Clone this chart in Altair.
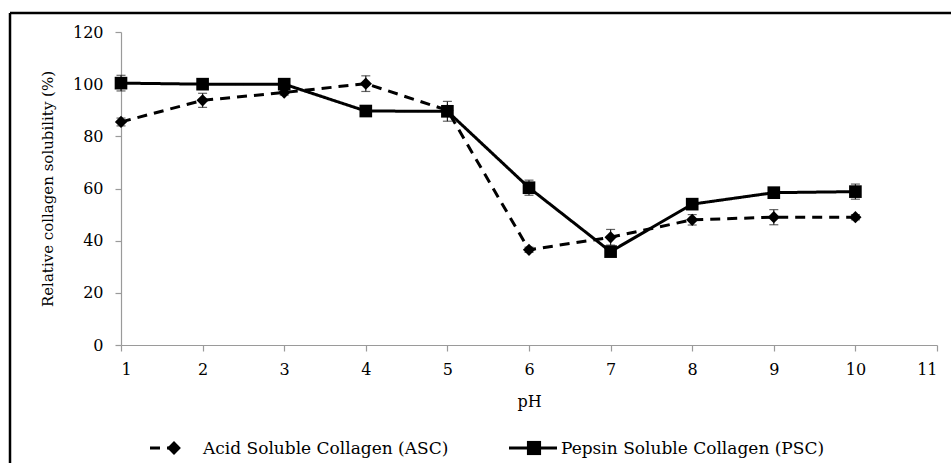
import altair as alt
import pandas as pd

ph = [1, 2, 3, 4, 5, 6, 7, 8, 9, 10]
asc = [85.5, 93.8, 96.8, 100.2, 90.0, 36.5, 41.3, 48.0, 49.0, 49.0]
asc_err = [1.5, 2.7, 1.0, 3.0, 1.0, 1.0, 3.0, 2.0, 2.9, 1.0]
psc = [100.4, 100.0, 100.0, 89.7, 89.6, 60.3, 35.8, 54.0, 58.4, 58.8]
psc_err = [3.0, 1.0, 1.0, 1.0, 3.8, 2.9, 1.0, 2.0, 1.2, 2.9]
series = ["Acid Soluble Collagen (ASC)", "Pepsin Soluble Collagen (PSC)"]
x_ticks = list(range(1, 12))
y_ticks = [0, 20, 40, 60, 80, 100, 120]

rows = []
for s, vals, errs in [(series[0], asc, asc_err), (series[1], psc, psc_err)]:
    for p, v, e in zip(ph, vals, errs):
        rows.append({"pH": p, "value": v, "lo": v - e, "hi": v + e, "series": s})
df = pd.DataFrame(rows)

FONT = "DejaVu Serif"
DASH = [10, 7]

xs = alt.Scale(domain=[1, 11], nice=False, zero=False)
ys = alt.Scale(domain=[0, 120], nice=False)

x_enc = alt.X("pH:Q", scale=xs, title="pH",
              axis=alt.Axis(values=x_ticks, format="d", grid=False,
                            labelFont=FONT, titleFont=FONT))
y_enc = alt.Y("value:Q", scale=ys, title="Relative collagen solubility (%)",
              axis=alt.Axis(values=y_ticks, format="d", grid=False,
                            labelFont=FONT, titleFont=FONT, titleFontSize=15))

base = alt.Chart(df)

err = base.mark_rule(color="#222", strokeWidth=1.2).encode(
    x=alt.X("pH:Q", scale=xs), y=alt.Y("lo:Q", scale=ys), y2="hi:Q")
cap_lo = base.mark_tick(color="#222", thickness=1.2, size=9, orient="horizontal").encode(
    x=alt.X("pH:Q", scale=xs), y=alt.Y("lo:Q", scale=ys))
cap_hi = base.mark_tick(color="#222", thickness=1.2, size=9, orient="horizontal").encode(
    x=alt.X("pH:Q", scale=xs), y=alt.Y("hi:Q", scale=ys))

lines = base.mark_line(color="black", strokeWidth=3).encode(
    x=x_enc, y=y_enc,
    detail="series:N",
    strokeDash=alt.StrokeDash("series:N",
                              scale=alt.Scale(domain=series, range=[DASH, [1, 0]]),
                              legend=None),
)

points = base.mark_point(filled=True, color="black", opacity=1).encode(
    x=alt.X("pH:Q", scale=xs),
    y=alt.Y("value:Q", scale=ys),
    shape=alt.Shape("series:N",
                    scale=alt.Scale(domain=series, range=["diamond", "square"]),
                    legend=None),
    size=alt.Size("series:N",
                  scale=alt.Scale(domain=series, range=[150, 160]),
                  legend=None),
)

# manual legend (text from the series list)
one = pd.DataFrame({"a": [0]})
LY = 416
leg_asc_line = alt.Chart(one).mark_rule(color="black", strokeWidth=3, strokeDash=DASH).encode(
    x=alt.value(29), x2=alt.value(62), y=alt.value(LY))
leg_asc_pt = alt.Chart(one).mark_point(shape="diamond", filled=True, color="black",
                                       opacity=1, size=190).encode(
    x=alt.value(53), y=alt.value(LY))
leg_asc_txt = alt.Chart(one).mark_text(text=series[0], align="left", baseline="middle",
                                       font=FONT, fontSize=17, color="black").encode(
    x=alt.value(82), y=alt.value(LY + 1))
leg_psc_line = alt.Chart(one).mark_rule(color="black", strokeWidth=3).encode(
    x=alt.value(388), x2=alt.value(436), y=alt.value(LY))
leg_psc_pt = alt.Chart(one).mark_point(shape="square", filled=True, color="black",
                                       opacity=1, size=200).encode(
    x=alt.value(413), y=alt.value(LY))
leg_psc_txt = alt.Chart(one).mark_text(text=series[1], align="left", baseline="middle",
                                       font=FONT, fontSize=17, color="black").encode(
    x=alt.value(440), y=alt.value(LY + 1))

border = alt.Chart(one).mark_rule(color="black", strokeWidth=2.5).encode(
    x=alt.value(-111), x2=alt.value(830), y=alt.value(-19))
border_l = alt.Chart(one).mark_rule(color="black", strokeWidth=2.5).encode(
    x=alt.value(-111), y=alt.value(-19), y2=alt.value(440))

chart = alt.layer(
    lines, err, cap_lo, cap_hi, points,
    leg_asc_line, leg_asc_pt, leg_asc_txt, leg_psc_line, leg_psc_pt, leg_psc_txt,
    border, border_l,
).resolve_scale(
    shape="independent", strokeDash="independent", size="independent"
).properties(
    width=816, height=313,
    autosize=alt.AutoSizeParams(type="none"),
    padding={"left": 121, "top": 32, "right": 14, "bottom": 118},
).configure_view(stroke=None).configure_axis(
    domainColor="#9a9a9a", tickColor="#9a9a9a", domainWidth=1.2, tickWidth=1.2,
    tickSize=6, labelFont=FONT, labelFontSize=16, labelColor="black",
    titleFont=FONT, titleFontSize=16, titleColor="black", titleFontWeight="normal",
).configure_axisX(labelPadding=10, titlePadding=16).configure_axisY(
    labelPadding=12, titlePadding=17)

chart.save("out.html", embed_options={"renderer": "svg", "actions": False})
